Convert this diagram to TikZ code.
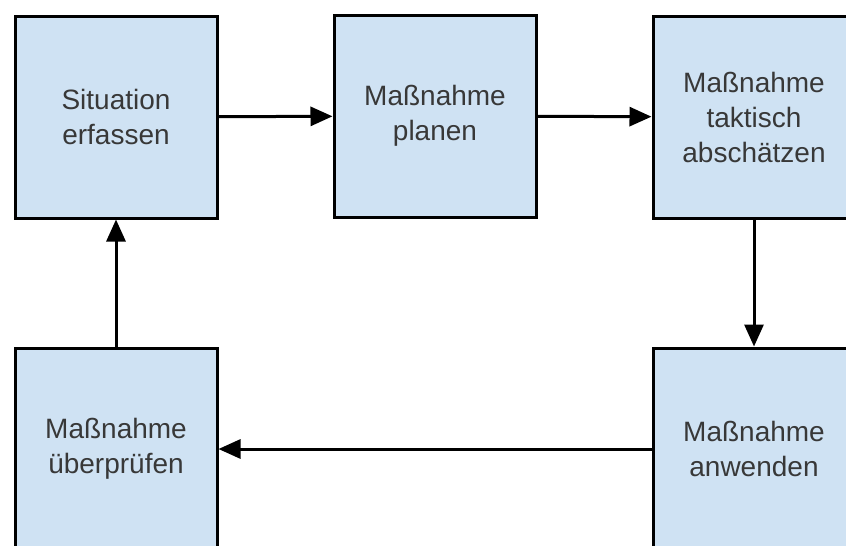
\documentclass[tikz,border=0pt]{standalone}
\usepackage{fontspec}
\setmainfont{Liberation Sans}
\usetikzlibrary{arrows.meta}

\definecolor{boxfill}{HTML}{CFE2F3}
\definecolor{boxtext}{HTML}{383838}

\tikzset{
  stepbox/.style={draw=black,fill=boxfill,line width=3pt,minimum width=202pt,minimum height=202pt,
    align=center,text=boxtext,font=\fontsize{28}{35}\selectfont},
  flow/.style={line width=3pt,-{Triangle[length=22pt,width=19pt]}}
}

\begin{document}
\begin{tikzpicture}[x=1pt,y=-1pt]
\useasboundingbox (0,0) rectangle (846,546);
\clip (0,0) rectangle (846,546);
\node[stepbox] (erfassen) at (116,117) {Situation\\erfassen};
\node[stepbox] (planen) at (435,116) {Maßnahme\\planen};
\node[stepbox] (abschaetzen) at (754,117) {Maßnahme\\taktisch\\abschätzen};
\node[stepbox] (anwenden) at (754,449) {Maßnahme\\anwenden};
\node[stepbox] (pruefen) at (116,449) {Maßnahme\\überprüfen};
% Kreislauf
\draw[flow] (erfassen) -- (planen);
\draw[flow] (planen) -- (abschaetzen);
\draw[flow] (abschaetzen) -- (anwenden);
\draw[flow] (anwenden) -- (pruefen);
\draw[flow] (pruefen) -- (erfassen);
\end{tikzpicture}
\end{document}
